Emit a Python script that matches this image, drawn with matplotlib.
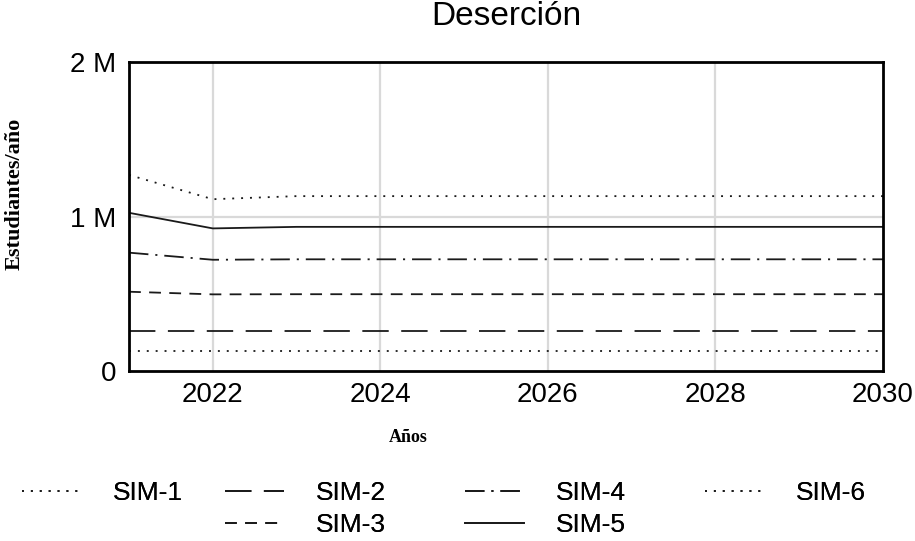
import matplotlib
matplotlib.use("Agg")
import matplotlib.pyplot as plt

# data (millions of students per year)
years = [2021, 2022, 2023, 2024, 2025, 2026, 2027, 2028, 2029, 2030]
sim_1 = [0.132, 0.132, 0.132, 0.132, 0.132, 0.132, 0.132, 0.132, 0.132, 0.132]
sim_2 = [0.259, 0.259, 0.259, 0.259, 0.259, 0.259, 0.259, 0.259, 0.259, 0.259]
sim_3 = [0.514, 0.497, 0.498, 0.498, 0.498, 0.498, 0.498, 0.498, 0.498, 0.498]
sim_4 = [0.767, 0.721, 0.724, 0.724, 0.724, 0.724, 0.724, 0.724, 0.724, 0.724]
sim_5 = [1.025, 0.924, 0.934, 0.934, 0.934, 0.934, 0.934, 0.934, 0.934, 0.934]
sim_6 = [1.270, 1.113, 1.133, 1.133, 1.133, 1.133, 1.133, 1.133, 1.133, 1.133]

series_labels = ["SIM-1", "SIM-2", "SIM-3", "SIM-4", "SIM-5", "SIM-6"]
x_ticks = [2022, 2024, 2026, 2028, 2030]
y_ticks = [0, 1, 2]
y_tick_labels = ["0", "1 M", "2 M"]

plt.rcParams["font.family"] = ["Liberation Sans", "DejaVu Sans"]
plt.rcParams["lines.scale_dashes"] = False

styles = {
    "SIM-1": (0, (1.4, 5.0)),
    "SIM-2": (0, (19, 9)),
    "SIM-3": (0, (8.5, 6)),
    "SIM-4": (0, (14, 5, 1.5, 5)),
    "SIM-5": "-",
    "SIM-6": (0, (1.4, 5.0)),
}

figure = plt.figure(figsize=(9.15, 5.41), dpi=100)
figure.subplots_adjust(left=0.141, right=0.965, top=0.885, bottom=0.314)
ax = figure.add_subplot()

# light grid
for x in [2022, 2024, 2026, 2028]:
    ax.axvline(x, color="#d9d9d9", lw=1.6, zorder=0)
ax.axhline(1, color="#d9d9d9", lw=1.6, zorder=0)

handles = {}
for label, values in zip(series_labels, [sim_1, sim_2, sim_3, sim_4, sim_5, sim_6]):
    (line,) = ax.plot(years, values, color="#1a1a1a", lw=1.3,
                      linestyle=styles[label], label=label)
    handles[label] = line

ax.set_xlim(2021, 2030)
ax.set_ylim(0, 2)
ax.set_xticks(x_ticks)
ax.set_xticklabels([str(t) for t in x_ticks])
ax.set_yticks(y_ticks)
ax.set_yticklabels(y_tick_labels)
ax.tick_params(length=0, labelsize=20)
ax.tick_params(axis="x", pad=8)
ax.tick_params(axis="y", pad=9)
for spine in ax.spines.values():
    spine.set_linewidth(2.0)
    spine.set_color("black")

ax.set_title("Deserción", fontsize=24, pad=27)

figure.text(15 / 915, 1 - 194 / 541, "Estudiantes/año", rotation=90,
            ha="center", va="center", family="Liberation Serif",
            fontweight="bold", fontsize=16)
figure.text(408 / 915, 1 - 437 / 541, "Años", ha="center", va="center",
            family="Liberation Serif", fontweight="bold", fontsize=13)

# legend columns: one legend per column so the layout matches
columns = [["SIM-1"], ["SIM-2", "SIM-3"], ["SIM-4", "SIM-5"], ["SIM-6"]]
column_x = [22, 225, 465, 705]
for col_labels, cx in zip(columns, column_x):
    leg = figure.legend(
        [handles[l] for l in col_labels], col_labels,
        loc="upper left", bbox_to_anchor=(cx / 915, 1 - 481 / 541),
        frameon=False, fontsize=19, handlelength=2.25, handletextpad=1.2,
        labelspacing=0.32, borderpad=0, borderaxespad=0,
    )
    figure.add_artist(leg)

plt.savefig("out.png", dpi=100, facecolor="white")
plt.close()
